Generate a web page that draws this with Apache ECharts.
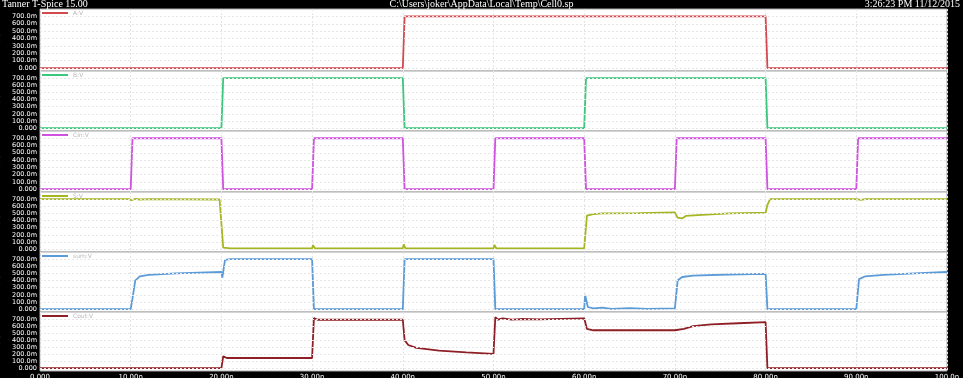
<!DOCTYPE html>
<html>
<head>
<meta charset="utf-8">
<script src="https://cdn.jsdelivr.net/npm/echarts@6/dist/echarts.min.js"></script>
<style>
html,body{margin:0;padding:0;background:#000;}
#chart{width:963px;height:378px;}
</style>
</head>
<body>
<div id="chart"></div>
<script>
// ---- data (time in ns, voltage in mV) ----
const seriesNames = ['A:V', 'B:V', 'Cin:V', 'S:V', 'sum:V', 'Cout:V'];
const xTickLabels = ['0.000','10.00n','20.00n','30.00n','40.00n','50.00n','60.00n','70.00n','80.00n','90.00n','100.0n'];
const yTickValues = [0, 100, 200, 300, 400, 500, 600, 700];
const yTickLabels = ['0.000','100.0m','200.0m','300.0m','400.0m','500.0m','600.0m','700.0m'];

const sigA = [[0,0],[40,0],[40.2,700],[80,700],[80.2,0],[100,0]];
const sigB = [[0,0],[20,0],[20.2,700],[40,700],[40.2,0],[60,0],[60.2,700],[80,700],[80.2,0],[100,0]];
const sigCin = [[0,0],[10,0],[10.2,700],[20,700],[20.2,0],[30,0],[30.2,700],[40,700],[40.2,0],[50,0],[50.2,700],[60,700],[60.2,0],[70,0],[70.2,700],[80,700],[80.2,0],[90,0],[90.2,700],[100,700]];
const sigS = [[0,700],[9.8,700],[10.1,685],[10.5,705],[11,695],[12,700],[19.8,695],[20.2,20],[21,12],[30,12],[30.1,55],[30.3,12],[40,12],[40.1,65],[40.3,12],[50,12],[50.1,60],[50.3,12],[60,12],[60.3,470],[61,490],[62,500],[66,505],[70,515],[70.3,440],[70.8,430],[71.2,465],[73,480],[76,500],[80,510],[80.2,620],[80.5,700],[85,700],[90,700],[90.2,712],[90.5,690],[91,700],[100,700]];
const sigSum = [[0,0],[10,0],[10.2,150],[10.5,400],[11,460],[12,480],[15,500],[20,520],[20.1,440],[20.4,690],[21,700],[30,700],[30.2,0],[40,0],[40.2,700],[50,700],[50.2,0],[60,0],[60.1,200],[60.4,30],[61,10],[62,22],[63,5],[65,15],[67,5],[70,10],[70.3,400],[70.8,450],[72,470],[76,485],[80,495],[80.2,0],[90,0],[90.3,420],[91,460],[93,480],[97,505],[100,520]];
const sigCout = [[0,0],[20,0],[20.2,170],[20.6,145],[30,145],[30.2,715],[30.6,690],[40,690],[40.2,400],[40.6,330],[41.5,290],[44,250],[47,225],[50,205],[50.2,725],[50.5,690],[51,710],[52,690],[53,700],[55,695],[60,710],[60.3,560],[61,540],[70,540],[71,560],[72,600],[74,625],[77,640],[80,655],[80.2,0],[100,0]];

const signals = [sigA, sigB, sigCin, sigS, sigSum, sigCout];
const colors = ['#d24a4f', '#3cc77e', '#d052e0', '#a6b622', '#5a9bd8', '#8e1f26'];

// ---- layout ----
const panelTops = [9, 71, 131, 192, 252, 312];
const panelHeights = [62, 60, 61, 60, 60, 59];
const LEFT = 40, RIGHT = 16;

const grids = [], xAxes = [], yAxes = [], series = [], legends = [];
for (let i = 0; i < 6; i++) {
  grids.push({
    left: LEFT, right: RIGHT, top: panelTops[i], height: panelHeights[i],
    outerBoundsMode: 'none', containLabel: false,
    show: true, backgroundColor: '#ffffff', borderColor: '#a8a8a8', borderWidth: 1
  });
  const last = i === 5;
  xAxes.push({
    type: 'value', gridIndex: i, min: 0, max: 100, interval: 10,
    axisLine: {show: false}, axisTick: {show: false},
    axisLabel: {
      show: last, color: '#ffffff', fontSize: 7, margin: 3,
      fontFamily: 'DejaVu Sans', hideOverlap: false,
      formatter: v => xTickLabels[Math.round(v / 10)] || ''
    },
    splitLine: {show: true, lineStyle: {color: '#e4e4e4', type: [2, 2], width: 1}}
  });
  yAxes.push({
    type: 'value', gridIndex: i, min: -40, max: 800,
    axisLine: {show: false}, axisTick: {show: false},
    splitLine: {show: false},
    name: 'Volts', nameLocation: 'middle', nameRotate: 90, nameGap: 31,
    nameTextStyle: {color: '#ffffff', fontSize: 5, fontFamily: 'DejaVu Sans'},
    axisLabel: {
      color: '#ffffff', fontSize: 6.5, lineHeight: 6, margin: 3, fontFamily: 'DejaVu Sans',
      hideOverlap: false,
      customValues: yTickValues,
      formatter: v => { const k = yTickValues.indexOf(v); return k >= 0 ? yTickLabels[k] : ''; }
    }
  });
  series.push({
    name: seriesNames[i], type: 'line', xAxisIndex: i, yAxisIndex: i,
    data: signals[i], showSymbol: false, symbol: 'none', animation: false,
    lineStyle: {color: colors[i], width: 1.8}, itemStyle: {color: colors[i]},
    markLine: {
      silent: true, symbol: 'none', animation: false, label: {show: false},
      lineStyle: {color: '#e6e6e6', type: [2, 2], width: 1},
      data: yTickValues.map(v => ({yAxis: v}))
    }
  });
  legends.push({
    data: [seriesNames[i]], left: LEFT + 2, top: panelTops[i] + 1,
    icon: 'rect', itemWidth: 26, itemHeight: 2, itemGap: 4, padding: 0,
    textStyle: {color: '#b8b8b8', fontSize: 6, fontFamily: 'DejaVu Sans'},
    selectedMode: false
  });
}

const chart = echarts.init(document.getElementById('chart'), null, {renderer: 'canvas'});
chart.setOption({
  backgroundColor: '#000000',
  animation: false,
  title: [
    {text: 'Tanner T-Spice 15.00', left: 2, top: -1, padding: 0,
     textStyle: {color: '#ffffff', fontSize: 10, fontWeight: 'normal', fontFamily: 'Liberation Serif'}},
    {text: 'C:\\Users\\joker\\AppData\\Local\\Temp\\Cell0.sp', left: 'center', top: -1, padding: 0,
     textStyle: {color: '#ffffff', fontSize: 10, fontWeight: 'normal', fontFamily: 'Liberation Serif'}},
    {text: '3:26:23 PM 11/12/2015', right: 3, top: -1, padding: 0,
     textStyle: {color: '#ffffff', fontSize: 10, fontWeight: 'normal', fontFamily: 'Liberation Serif'}}
  ],
  legend: legends,
  grid: grids,
  xAxis: xAxes,
  yAxis: yAxes,
  series: series
});
</script>
</body>
</html>
